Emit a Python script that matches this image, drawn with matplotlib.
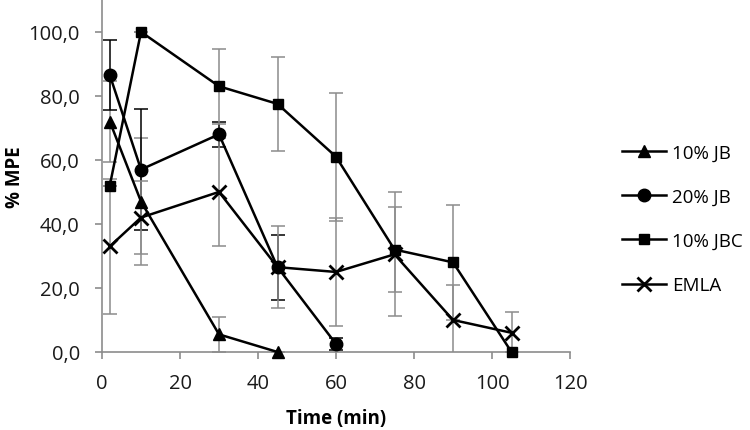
import numpy as np
import matplotlib
matplotlib.use("Agg")
import matplotlib.pyplot as plt
from matplotlib.ticker import FuncFormatter, MultipleLocator

plt.rcParams["font.family"] = ["Open Sans", "DejaVu Sans"]

# data
time_jb10 = [2, 10, 30, 45]
mpe_jb10 = [72.0, 47.0, 5.5, 0.0]
err_jb10 = [12.5, 19.8, 5.5, 0.0]

time_jb20 = [2, 10, 30, 45, 60]
mpe_jb20 = [86.5, 57.0, 68.0, 26.5, 2.5]
err_jb20 = [11.0, 19.0, 4.0, 10.2, 1.8]

time_jbc10 = [2, 10, 30, 45, 60, 75, 90, 105]
mpe_jbc10 = [52.0, 100.0, 83.0, 77.5, 61.0, 32.0, 28.0, 0.0]
err_jbc10 = [0.0, 0.0, 11.8, 14.6, 20.0, 13.2, 18.0, 0.0]

time_emla = [2, 10, 30, 45, 60, 75, 90, 105]
mpe_emla = [33.0, 42.0, 50.0, 26.5, 25.0, 30.5, 10.0, 6.0]
err_emla = [21.0, 11.5, 17.0, 12.8, 17.0, 19.4, 10.9, 6.4]

series = [
    ("10% JB", time_jb10, mpe_jb10, err_jb10, "^", 8.5, "#8c8c8c"),
    ("20% JB", time_jb20, mpe_jb20, err_jb20, "o", 9, "black"),
    ("10% JBC", time_jbc10, mpe_jbc10, err_jbc10, "s", 7.5, "#8c8c8c"),
    ("EMLA", time_emla, mpe_emla, err_emla, "x", 10, "#8c8c8c"),
]

fig = plt.figure(figsize=(7.5, 4.31), dpi=100)
ax = fig.add_axes([0.136, 0.181, 0.624, 0.817])

for name, t, y, e, mk, ms, ecol in series:
    ax.errorbar(t, y, yerr=e, fmt="none", ecolor=ecol, elinewidth=1.1,
                capsize=4.8, capthick=1.1, zorder=2)
for name, t, y, e, mk, ms, ecol in series:
    ax.plot(t, y, color="black", lw=1.8, marker=mk, markersize=ms,
            markeredgewidth=2 if mk == "x" else 1, label=name,
            clip_on=False, zorder=3)

ax.set_xlim(0, 120)
ax.set_ylim(0, 110)
ax.xaxis.set_major_locator(MultipleLocator(20))
ax.yaxis.set_major_locator(MultipleLocator(20))
ax.yaxis.set_major_formatter(FuncFormatter(lambda v, p: f"{v:.1f}".replace(".", ",")))

for s in ["top", "right"]:
    ax.spines[s].set_visible(False)
for s in ["left", "bottom"]:
    ax.spines[s].set_color("#8c8c8c")
    ax.spines[s].set_linewidth(1.2)
ax.tick_params(direction="out", length=5, width=1.2, color="#8c8c8c",
               labelsize=14.5, labelcolor="#1a1a1a")
ax.tick_params(axis="y", pad=11)
ax.tick_params(axis="x", pad=10)

ax.set_xlabel("Time (min)", fontsize=13.5, fontweight="bold", labelpad=11)
ax.set_ylabel("% MPE", fontsize=13.5, fontweight="bold", va="center")
ax.yaxis.set_label_coords(-0.185, 0.5)

ax.legend(loc="center left", bbox_to_anchor=(1.075, 0.378), frameon=False,
          fontsize=13.5, handlelength=2.35, labelspacing=1.4, handletextpad=0.3)

fig.savefig("out.png", dpi=100)
